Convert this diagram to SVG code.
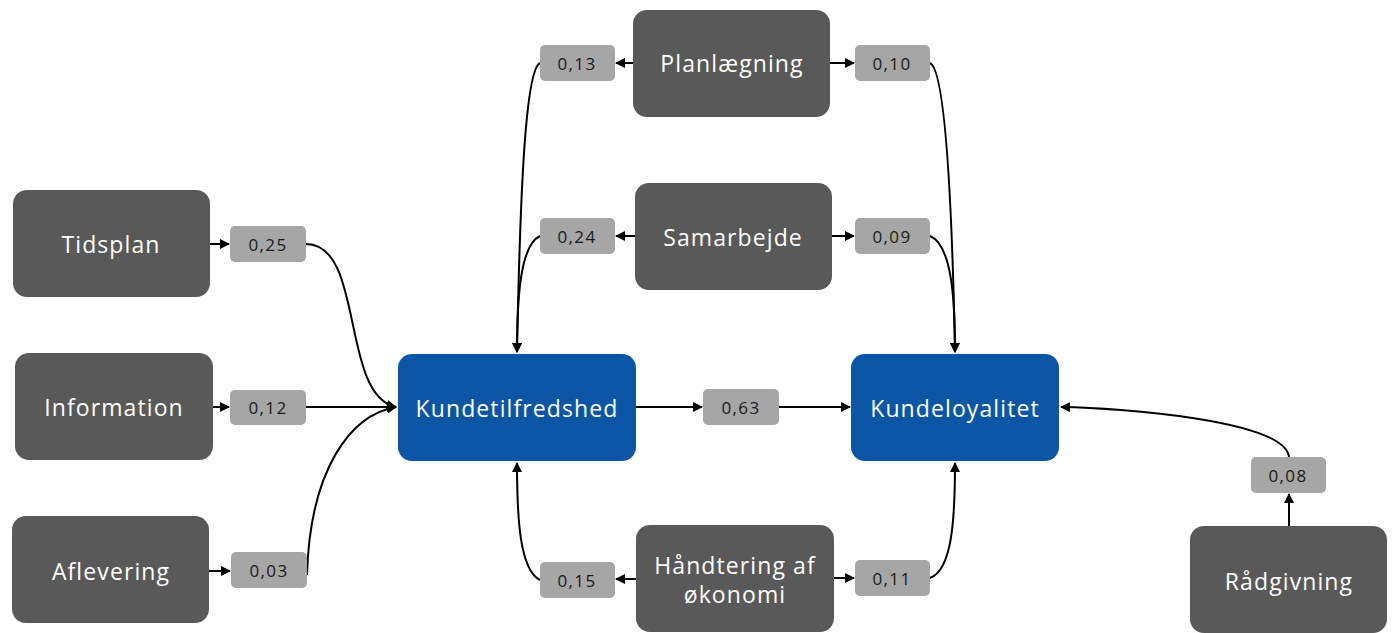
<svg xmlns="http://www.w3.org/2000/svg" width="1392" height="633" viewBox="0 0 1392 633">
<style>
.dark{fill:#595959}
.blue{fill:#0B56A4}
.lbl{fill:#A6A6A6}
.nt{font-family:"Open Sans","Liberation Sans",sans-serif;font-size:23px;letter-spacing:1.1px;fill:#ffffff;text-anchor:middle;dominant-baseline:central}
.lt{font-family:"Open Sans","Liberation Sans",sans-serif;font-size:17px;letter-spacing:1.4px;fill:#1a1a1a;text-anchor:middle;dominant-baseline:central}
.c{fill:none;stroke:#000;stroke-width:2;marker-end:url(#ah)}
</style>
<defs>
<marker id="ah" viewBox="0 0 10 10" refX="9" refY="5" markerWidth="5" markerHeight="5" orient="auto" markerUnits="strokeWidth">
<path d="M0,0 L10,5 L0,10 z" fill="#000"/>
</marker>
</defs>
<g id="connectors">
<path class="c" d="M210,244 L229,244"/>
<path class="c" d="M213,407 L229,407"/>
<path class="c" d="M209,571 L230,571"/>
<path class="c" d="M306,244 C365,244 340,395 396,407"/>
<path class="c" d="M306,407 L396,407"/>
<path class="c" d="M307,575 C310,470 350,415 396,407"/>
<path class="c" d="M633,63 L616,63"/>
<path class="c" d="M635,236 L616,236"/>
<path class="c" d="M540,63 C525,70 520,200 517,352"/>
<path class="c" d="M540,236 C520,245 517,300 517,352"/>
<path class="c" d="M830,63 L854,63"/>
<path class="c" d="M832,236 L854,236"/>
<path class="c" d="M930,63 C945,70 952,200 955,352"/>
<path class="c" d="M930,236 C952,245 955,300 955,352"/>
<path class="c" d="M636,407 L702,407"/>
<path class="c" d="M779,407 L850,407"/>
<path class="c" d="M636,579 L616,579"/>
<path class="c" d="M540,580 C520,570 517,520 517,463"/>
<path class="c" d="M834,578 L854,578"/>
<path class="c" d="M930,578 C952,570 955,520 955,463"/>
<path class="c" d="M1289,526 L1289,494"/>
<path class="c" d="M1289,457 C1285,420 1120,408 1061,407"/>
</g>
<g id="n-tidsplan"><rect class="dark" x="13" y="190" width="197" height="107" rx="14"/><text class="nt" x="111" y="244">Tidsplan</text></g>
<g id="n-information"><rect class="dark" x="15" y="353" width="198" height="107" rx="14"/><text class="nt" x="114" y="407">Information</text></g>
<g id="n-aflevering"><rect class="dark" x="12" y="516" width="197" height="107" rx="14"/><text class="nt" x="111" y="571">Aflevering</text></g>
<g id="n-planlaegning"><rect class="dark" x="633" y="10" width="197" height="107" rx="14"/><text class="nt" x="732" y="63">Planlægning</text></g>
<g id="n-samarbejde"><rect class="dark" x="635" y="183" width="197" height="107" rx="14"/><text class="nt" x="733" y="237">Samarbejde</text></g>
<g id="n-haandtering"><rect class="dark" x="636" y="525" width="198" height="107" rx="14"/><text class="nt" x="735" y="565">Håndtering af</text><text class="nt" x="735" y="594">økonomi</text></g>
<g id="n-raadgivning"><rect class="dark" x="1190" y="526" width="197" height="107" rx="14"/><text class="nt" x="1289" y="581">Rådgivning</text></g>
<g id="n-kundetilfredshed"><rect class="blue" x="398" y="354" width="238" height="107" rx="14"/><text class="nt" x="517" y="408">Kundetilfredshed</text></g>
<g id="n-kundeloyalitet"><rect class="blue" x="851" y="354" width="208" height="107" rx="14"/><text class="nt" x="955" y="408">Kundeloyalitet</text></g>
<g id="l-025"><rect class="lbl" x="230" y="226" width="76" height="36" rx="5"/><text class="lt" x="268" y="244">0,25</text></g>
<g id="l-012"><rect class="lbl" x="230" y="390" width="76" height="35" rx="5"/><text class="lt" x="268" y="407">0,12</text></g>
<g id="l-003"><rect class="lbl" x="231" y="552" width="76" height="36" rx="5"/><text class="lt" x="269" y="570">0,03</text></g>
<g id="l-013"><rect class="lbl" x="540" y="45" width="75" height="36" rx="5"/><text class="lt" x="577" y="63">0,13</text></g>
<g id="l-024"><rect class="lbl" x="540" y="218" width="75" height="36" rx="5"/><text class="lt" x="577" y="236">0,24</text></g>
<g id="l-010"><rect class="lbl" x="855" y="45" width="75" height="36" rx="5"/><text class="lt" x="892" y="63">0,10</text></g>
<g id="l-009"><rect class="lbl" x="855" y="218" width="75" height="36" rx="5"/><text class="lt" x="892" y="236">0,09</text></g>
<g id="l-063"><rect class="lbl" x="703" y="389" width="76" height="36" rx="5"/><text class="lt" x="741" y="407">0,63</text></g>
<g id="l-015"><rect class="lbl" x="540" y="562" width="75" height="36" rx="5"/><text class="lt" x="577" y="580">0,15</text></g>
<g id="l-011"><rect class="lbl" x="855" y="560" width="75" height="36" rx="5"/><text class="lt" x="892" y="578">0,11</text></g>
<g id="l-008"><rect class="lbl" x="1251" y="457" width="75" height="36" rx="5"/><text class="lt" x="1288" y="475">0,08</text></g>
</svg>
